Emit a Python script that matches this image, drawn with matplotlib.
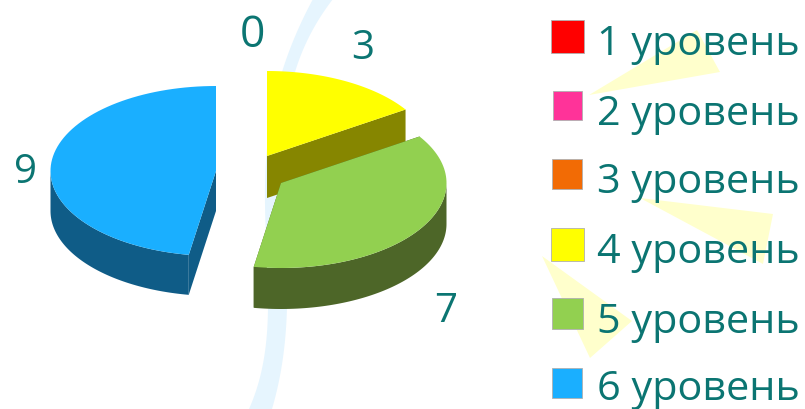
import matplotlib
matplotlib.use('Agg')
import matplotlib.pyplot as plt
from matplotlib.patches import Polygon, Rectangle
import numpy as np

# --- Data ---
categories = ['1 уровень', '2 уровень', '3 уровень', '4 уровень', '5 уровень', '6 уровень']
values = [0, 0, 0, 3, 7, 9]
face_colors = ['#FF0000', '#FF3399', '#F26B05', '#FFFF00', '#92D050', '#1AAFFF']
side_colors = ['#800000', '#801A4D', '#793603', '#868600', '#4D6628', '#0F5C87']

# --- Layout in pixels ---
centers = {3: (267, 157), 4: (281, 184), 5: (216, 172)}
depths = {3: 42, 4: 41, 5: 40}
label_pos = {0: (252, 47), 3: (363, 59), 4: (446, 322), 5: (25, 183)}
label_size = {0: 32, 3: 29, 4: 29, 5: 29}
legend_boxes = [(551, 21, 33), (553, 92, 29), (552, 160, 30), (551, 229, 33), (552, 299, 31), (552, 369, 30)]
legend_base = [55, 125, 193, 263, 333, 400]
rx, ry = 165.5, 85
text_color = '#0B7572'

fig = plt.figure(figsize=(8.05, 4.10), dpi=100)
ax = fig.add_axes((0, 0, 1, 1))
ax.set_xlim(0, 805)
ax.set_ylim(410, 0)
ax.axis('off')

# --- Background decoration ---
# smooth band through a few edge points
edge_y = np.array([0, 73, 205, 308, 410])
left_x = np.array([313, 282, 265, 268, 249])
right_x = np.array([333, 295, 284, 287, 272])
yy = np.linspace(0, 410, 120)
left = np.column_stack([np.polyval(np.polyfit(edge_y, left_x, 4), yy), yy])
right = np.column_stack([np.polyval(np.polyfit(edge_y, right_x, 4), yy), yy])
ax.add_patch(Polygon(np.vstack([left, right[::-1]]), fc='#E6F5FE', ec='none', zorder=1))
triangles = [
    [(589, 96), (697, 31), (720, 73)],
    [(640, 199), (773, 215), (763, 265)],
    [(542, 257), (632, 322), (590, 359)],
]
for tri in triangles:
    ax.add_patch(Polygon(tri, fc='#FFFFCC', ec='none', zorder=1))


# --- 3D pie slices ---
def rim(cx, cy, a0, a1):
    t = np.radians(np.linspace(a0, a1, 80))
    return np.column_stack([cx + rx * np.sin(t), cy - ry * np.cos(t)])


def draw_slice(i, a0, a1):
    cx, cy = centers[i]
    z = {3: 2, 5: 3, 4: 4}[i]
    drop = np.array([0, depths[i]])
    # cut faces
    for a in (a0, a1):
        p = rim(cx, cy, a, a)[:2]
        corner = np.array([[cx, cy], p[0], p[0] + drop, [cx, cy + depths[i]]])
        ax.add_patch(Polygon(corner, fc=side_colors[i], ec='none', zorder=z))
    # outer wall, front half only
    lo, hi = max(a0, 90), min(a1, 270)
    if hi > lo:
        r = rim(cx, cy, lo, hi)
        ax.add_patch(Polygon(np.vstack([r, r[::-1] + drop]), fc=side_colors[i], ec='none', zorder=z))
    top = np.vstack([[cx, cy], rim(cx, cy, a0, a1)])
    ax.add_patch(Polygon(top, fc=face_colors[i], ec='none', zorder=z + 0.5))


angles = np.cumsum([0] + values) / sum(values) * 360
for i in (3, 5, 4):
    draw_slice(i, angles[i], angles[i + 1])

# --- Value labels ---
for i, (x, y) in label_pos.items():
    ax.text(x, y, str(values[i]), color=text_color, fontsize=label_size[i], family='Open Sans',
            ha='center', va='baseline', zorder=6)

# --- Legend ---
for name, col, box, base in zip(categories, face_colors, legend_boxes, legend_base):
    x, y, s = box
    ax.add_patch(Rectangle((x, y), s, s, fc=col, ec='#B0B0B0', lw=0.6, zorder=5))
    ax.text(597, base, name, color=text_color, fontsize=29.8, family='Open Sans',
            ha='left', va='baseline', zorder=6)

fig.savefig('out.png', dpi=100)
